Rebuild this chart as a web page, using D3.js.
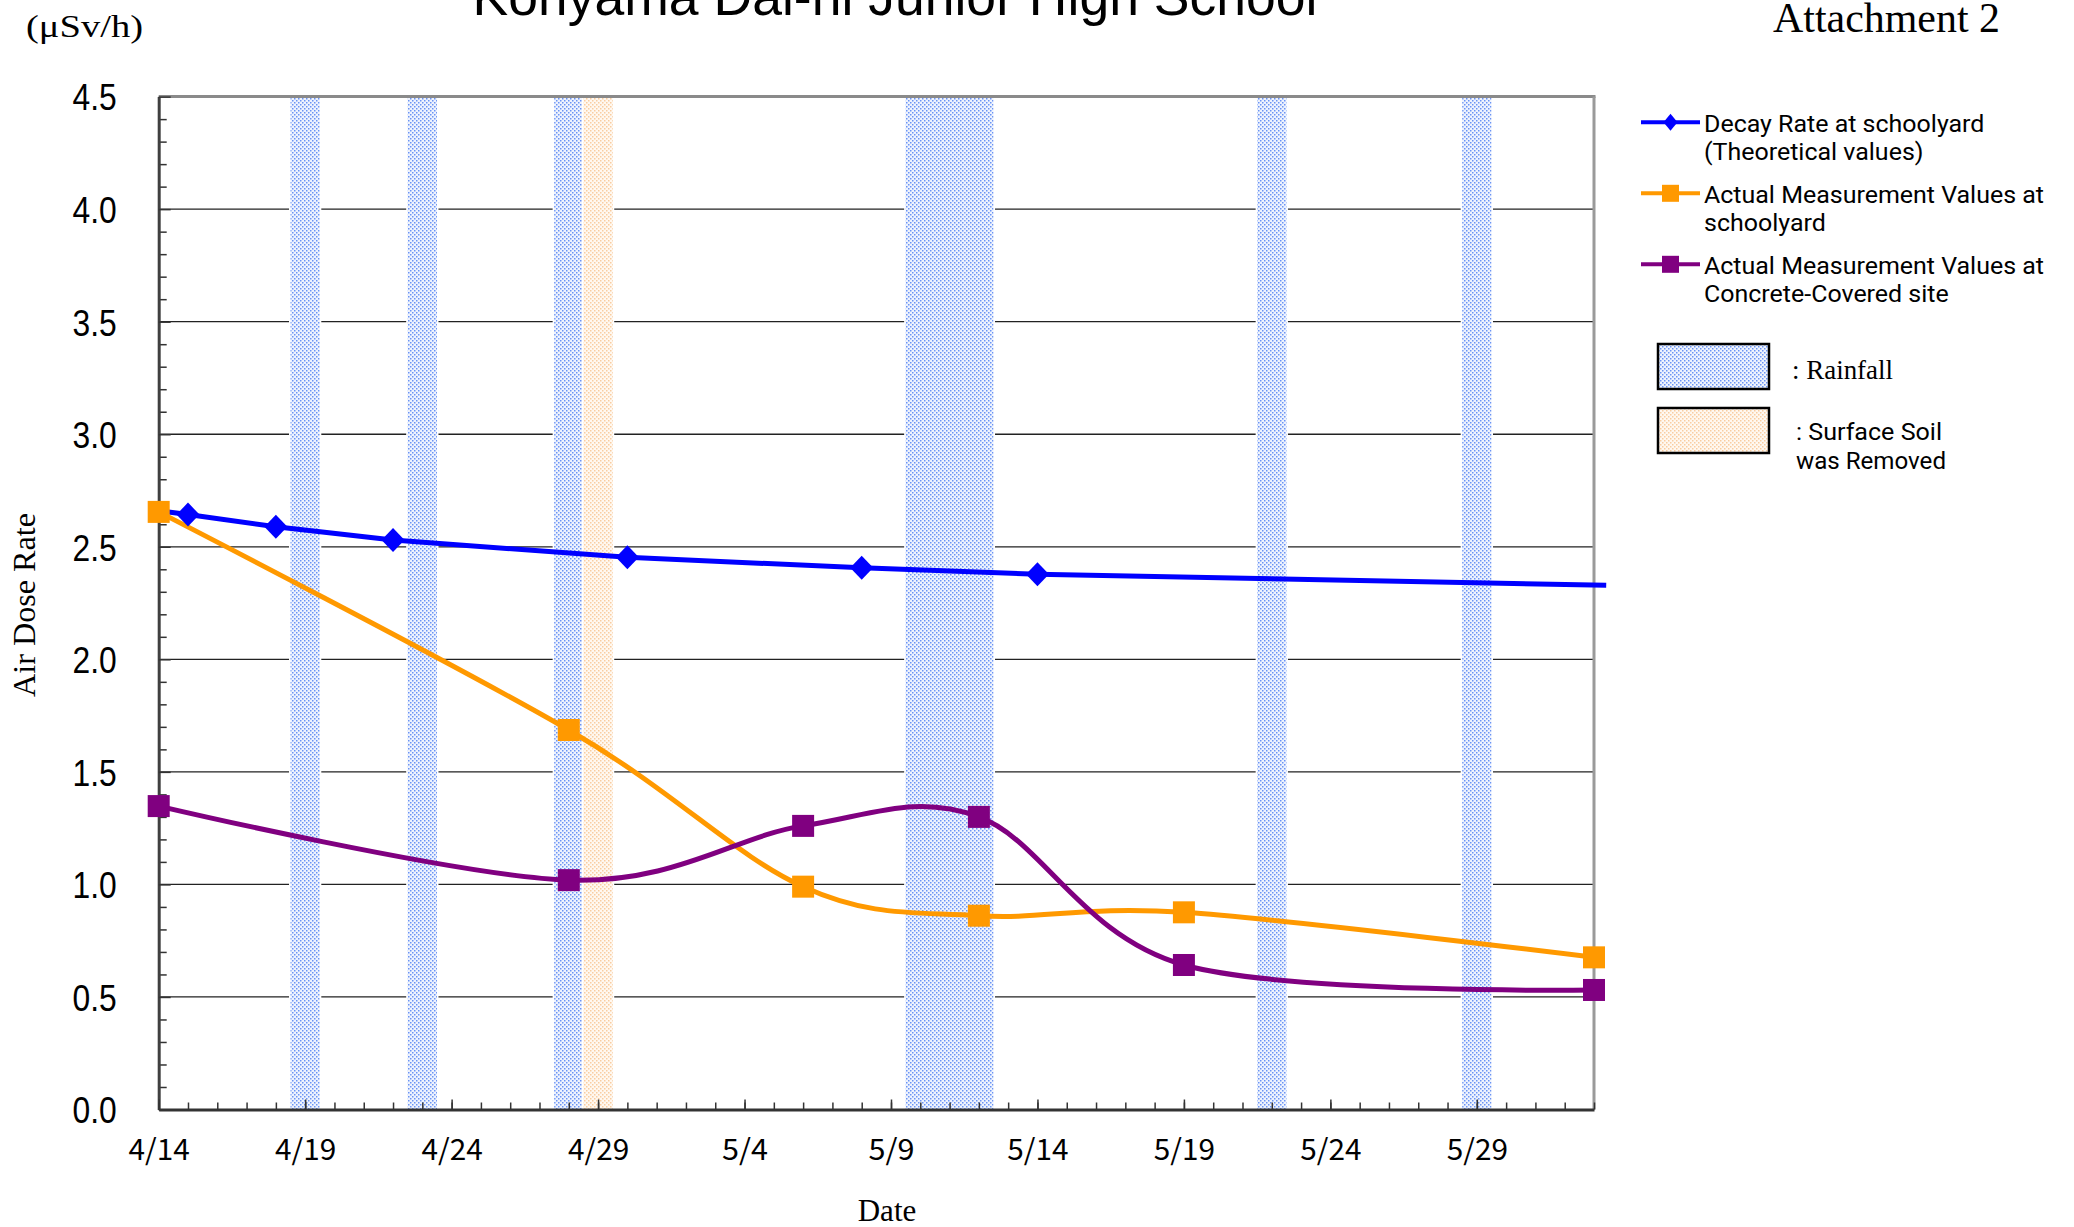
<!DOCTYPE html>
<html><head><meta charset="utf-8">
<script src="https://cdn.jsdelivr.net/npm/d3@7"></script>
<style>body{margin:0;background:#fff}svg{display:block}</style>
</head><body>
<svg id="c" width="2074" height="1227"></svg>
<script>
// ---------------- data ----------------
const YEAR = 2011;
const titleText = "Koriyama Dai-ni Junior High School";
const xDomain = ["4/14", "6/2"];
const xTickLabels = ["4/14","4/19","4/24","4/29","5/4","5/9","5/14","5/19","5/24","5/29"];
const yTickValues = [0.0,0.5,1.0,1.5,2.0,2.5,3.0,3.5,4.0,4.5];

const decayDates  = ["4/14","4/15","4/18","4/22","4/30","5/8","5/14","6/2 10"];
const decayValues = [2.660, 2.643, 2.589, 2.530, 2.453, 2.407, 2.378, 2.329];
const decayMarked = [false, true, true, true, true, true, true, false];

const measureDates     = ["4/14","4/28","5/6","5/12","5/19","6/2"];
const schoolyardValues = [2.655, 1.686, 0.990, 0.861, 0.876, 0.676];
const concreteValues   = [1.348, 1.019, 1.260, 1.300, 0.642, 0.531];

const rainfallDates    = ["4/19","4/23","4/28","5/10","5/11","5/12","5/22","5/29"];
const soilRemovedDates = ["4/29"];

const legendLabels = [
  ["Decay Rate at schoolyard", "(Theoretical values)"],
  ["Actual Measurement Values at", "schoolyard"],
  ["Actual Measurement Values at", "Concrete-Covered site"]
];
const seriesColors = ["#0000ff", "#ff9900", "#800080"];

// ---------------- helpers ----------------
function parseDate(s) {
  const [md, h] = s.split(" ");
  const [m, d] = md.split("/").map(Number);
  return new Date(Date.UTC(YEAR, m - 1, d, h ? +h : 0));
}
const HALF_DAY = 12 * 3600 * 1000;

const svg = d3.select("#c");
const L = 158.7, R = 1594, T = 96.6, B = 1109.5;

const x = d3.scaleUtc().domain(xDomain.map(parseDate)).range([L, R]);
const y = d3.scaleLinear().domain([0, 4.5]).range([B, T]);

// patterns
const defs = svg.append("defs");
function makePattern(id, bg, dot) {
  const p = defs.append("pattern").attr("id", id).attr("patternUnits", "userSpaceOnUse")
    .attr("width", 4).attr("height", 4);
  p.append("rect").attr("width", 4).attr("height", 4).attr("fill", bg);
  p.append("rect").attr("x", 0).attr("y", 0).attr("width", 1.5).attr("height", 1.5).attr("fill", dot);
  p.append("rect").attr("x", 2).attr("y", 2).attr("width", 1.5).attr("height", 1.5).attr("fill", dot);
}
makePattern("rainPat", "#eef3fe", "#6a93f4");
makePattern("soilPat", "#fff8f0", "#f9cda0");

// ---------------- gridlines ----------------
svg.append("g").selectAll("line").data(yTickValues.filter(v => v > 0 && v < 4.5)).join("line")
  .attr("x1", L).attr("x2", R).attr("y1", d => y(d)).attr("y2", d => y(d))
  .attr("stroke", "#222").attr("stroke-width", 1.3);

// ---------------- bands ----------------
function drawBands(dates, pat) {
  const g = svg.append("g");
  const ds = dates.map(parseDate);
  g.selectAll("rect.bg").data(ds).join("rect").attr("class", "bg")
    .attr("x", d => x(new Date(+d - HALF_DAY)) - 1.5)
    .attr("width", d => x(new Date(+d + HALF_DAY)) - x(new Date(+d - HALF_DAY)) + 3)
    .attr("y", T).attr("height", B - T).attr("fill", "#fff");
  g.selectAll("rect.fg").data(ds).join("rect").attr("class", "fg")
    .attr("x", d => x(new Date(+d - HALF_DAY)))
    .attr("width", d => x(new Date(+d + HALF_DAY)) - x(new Date(+d - HALF_DAY)))
    .attr("y", T).attr("height", B - T).attr("fill", `url(#${pat})`);
}
drawBands(rainfallDates, "rainPat");
drawBands(soilRemovedDates, "soilPat");

// ---------------- frame ----------------
svg.append("line").attr("x1", L).attr("x2", R + 1.5).attr("y1", T).attr("y2", T)
  .attr("stroke", "#8a8a8a").attr("stroke-width", 3);
svg.append("line").attr("x1", R).attr("x2", R).attr("y1", T).attr("y2", B)
  .attr("stroke", "#9a9a9a").attr("stroke-width", 3);

// ---------------- axes ----------------
const yMinor = d3.range(0, 46).map(i => i / 10).filter(v => Math.round(v * 10) % 5 !== 0);
svg.append("g").attr("transform", `translate(${L},0)`)
  .call(d3.axisLeft(y).tickValues(yMinor).tickSizeInner(-8).tickSizeOuter(0).tickFormat(""))
  .call(g => g.select(".domain").remove())
  .call(g => g.selectAll(".tick line").attr("stroke", "#333").attr("stroke-width", 1.5));

const yAx = svg.append("g").attr("transform", `translate(${L},0)`)
  .call(d3.axisLeft(y).tickValues(yTickValues).tickSizeInner(-12).tickSizeOuter(0)
    .tickPadding(42).tickFormat(d3.format(".1f")));
yAx.select(".domain").attr("stroke", "#404040").attr("stroke-width", 3);
yAx.selectAll(".tick line").attr("stroke", "#333").attr("stroke-width", 1.5);
yAx.selectAll(".tick text").attr("font-family", "'Liberation Sans', Arial, sans-serif")
  .attr("font-size", 37).attr("fill", "#000")
  .attr("x", -42 / 0.86).attr("dy", "0.36em").attr("transform", "scale(0.86,1)");

const dayTicks = d3.utcDay.range(parseDate(xDomain[0]), new Date(+parseDate(xDomain[1]) + 1000));
svg.append("g").attr("transform", `translate(0,${B})`)
  .call(d3.axisBottom(x).tickValues(dayTicks).tickSizeInner(-7).tickSizeOuter(0).tickFormat(""))
  .call(g => g.select(".domain").remove())
  .call(g => g.selectAll(".tick line").attr("stroke", "#333").attr("stroke-width", 1.5));

const xAx = svg.append("g").attr("transform", `translate(0,${B})`)
  .call(d3.axisBottom(x).tickValues(xTickLabels.map(parseDate)).tickSizeInner(-10).tickSizeOuter(0)
    .tickPadding(30).tickFormat(d3.utcFormat("%-m/%-d")));
xAx.select(".domain").attr("stroke", "#333").attr("stroke-width", 3);
xAx.selectAll(".tick line").attr("stroke", "#333").attr("stroke-width", 1.5);
const xt = xAx.selectAll(".tick text").attr("font-family", "'Noto Sans CJK JP', sans-serif")
  .attr("font-size", 29).attr("fill", "#000").attr("dy", "0.72em");
xt.each(function () {
  const n = this.textContent.length;
  d3.select(this).attr("textLength", n * 15.3).attr("lengthAdjust", "spacingAndGlyphs");
});

// ---------------- series ----------------
function drawSeries(dates, values, color, curve) {
  const pts = dates.map((d, i) => [x(parseDate(d)), y(values[i])]);
  svg.append("path").attr("d", d3.line().curve(curve)(pts))
    .attr("fill", "none").attr("stroke", color).attr("stroke-width", 5)
    .attr("stroke-linejoin", "round");
  return pts;
}
const diamond = (w, h) => `M0,${-h}L${w},0L0,${h}L${-w},0Z`;

const bluePts = drawSeries(decayDates, decayValues, seriesColors[0], d3.curveLinear);
const orangePts = drawSeries(measureDates, schoolyardValues, seriesColors[1], d3.curveCardinal.tension(0));
const purplePts = drawSeries(measureDates, concreteValues, seriesColors[2], d3.curveCardinal.tension(0));

svg.append("g").selectAll("path").data(bluePts.filter((p, i) => decayMarked[i])).join("path")
  .attr("transform", p => `translate(${p[0]},${p[1]})`).attr("d", diamond(11.5, 12))
  .attr("fill", seriesColors[0]);
[[orangePts, seriesColors[1]], [purplePts, seriesColors[2]]].forEach(([pts, c]) => {
  svg.append("g").selectAll("rect").data(pts).join("rect")
    .attr("x", p => p[0] - 11).attr("y", p => p[1] - 11).attr("width", 22).attr("height", 22)
    .attr("fill", c);
});

// ---------------- texts ----------------
svg.append("text").attr("x", 895).attr("y", 15).attr("text-anchor", "middle")
  .attr("font-family", "'Liberation Sans', Arial, sans-serif").attr("font-size", 53)
  .attr("textLength", 845).attr("lengthAdjust", "spacingAndGlyphs").text(titleText);

svg.append("text").attr("x", 1773).attr("y", 32)
  .attr("font-family", "'Liberation Serif', 'Times New Roman', serif").attr("font-size", 42)
  .attr("textLength", 227).attr("lengthAdjust", "spacingAndGlyphs").text("Attachment 2");

svg.append("text").attr("x", 26).attr("y", 37)
  .attr("font-family", "'Liberation Serif', 'Times New Roman', serif").attr("font-size", 31)
  .attr("textLength", 117).attr("lengthAdjust", "spacingAndGlyphs").text("(μSv/h)");

svg.append("text").attr("transform", "translate(35,605) rotate(-90)").attr("text-anchor", "middle")
  .attr("font-family", "'Liberation Serif', 'Times New Roman', serif").attr("font-size", 32)
  .attr("textLength", 184).attr("lengthAdjust", "spacingAndGlyphs").text("Air Dose Rate");

svg.append("text").attr("x", 887).attr("y", 1221).attr("text-anchor", "middle")
  .attr("font-family", "'Liberation Serif', 'Times New Roman', serif").attr("font-size", 31)
  .text("Date");

// ---------------- legend ----------------
const legY = [122.3, 193.3, 264.3];
const legBase = [[132.3, 160.3], [202.7, 230.7], [274, 302]];
const lg = svg.append("g");
const legFont = "Roboto, 'Liberation Sans', sans-serif";
const legSize = 23;
const legScaleRef = lg.append("text").attr("font-family", legFont).attr("font-size", legSize)
  .text(legendLabels[1][0]);
const legScale = 340 / legScaleRef.node().getComputedTextLength();
legScaleRef.remove();
legendLabels.forEach((lines, i) => {
  lg.append("line").attr("x1", 1641).attr("x2", 1700).attr("y1", legY[i]).attr("y2", legY[i])
    .attr("stroke", seriesColors[i]).attr("stroke-width", 4);
  if (i === 0) {
    lg.append("path").attr("transform", `translate(1670.5,${legY[i]})`).attr("d", diamond(7, 8.5))
      .attr("fill", seriesColors[i]);
  } else {
    lg.append("rect").attr("x", 1662).attr("y", legY[i] - 8.5).attr("width", 17).attr("height", 17)
      .attr("fill", seriesColors[i]);
  }
  lines.forEach((t, j) => {
    const tx = lg.append("text").attr("x", 1704).attr("y", legBase[i][j])
      .attr("font-family", legFont).attr("font-size", legSize).attr("fill", "#000").text(t);
    const w = tx.node().getComputedTextLength();
    tx.attr("textLength", w * legScale).attr("lengthAdjust", "spacingAndGlyphs");
  });
});

lg.append("rect").attr("x", 1658).attr("y", 344).attr("width", 111).attr("height", 45)
  .attr("fill", "url(#rainPat)").attr("stroke", "#000").attr("stroke-width", 2.5);
lg.append("text").attr("x", 1792).attr("y", 379)
  .attr("font-family", "'Liberation Serif', 'Times New Roman', serif").attr("font-size", 28)
  .attr("textLength", 101).attr("lengthAdjust", "spacingAndGlyphs").text(": Rainfall");

lg.append("rect").attr("x", 1658).attr("y", 408).attr("width", 111).attr("height", 45)
  .attr("fill", "url(#soilPat)").attr("stroke", "#000").attr("stroke-width", 2.5);
[[": Surface Soil", 440, 146], ["was Removed", 469.3, 150]].forEach(([t, yy, w]) => {
  lg.append("text").attr("x", 1796).attr("y", yy).attr("font-family", legFont).attr("font-size", legSize)
    .attr("textLength", w).attr("lengthAdjust", "spacingAndGlyphs").text(t);
});
</script>
</body></html>
